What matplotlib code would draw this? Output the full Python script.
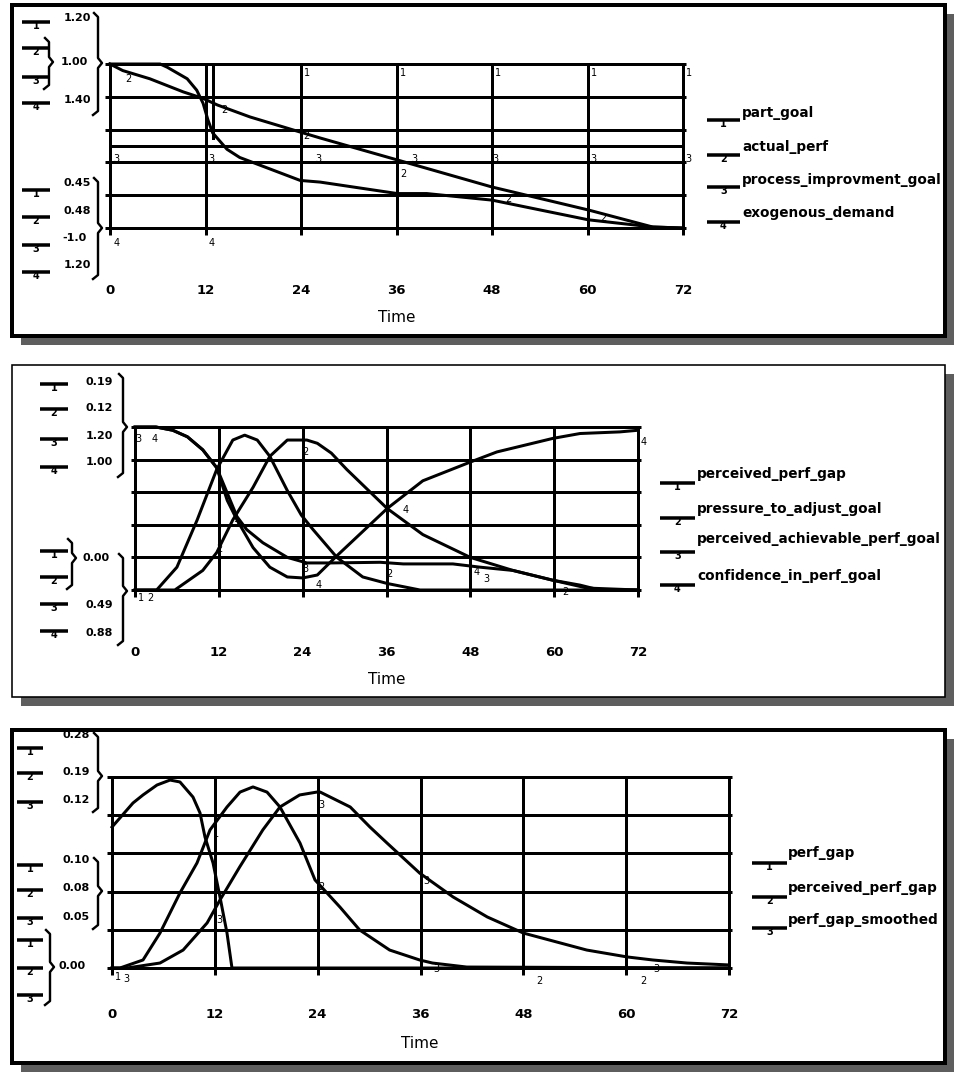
import matplotlib
matplotlib.use("Agg")
import matplotlib.pyplot as plt
from matplotlib.patches import Rectangle

# ---------------- data (values = fraction of each series' plotted scale) -------------
time_ticks = [0, 12, 24, 36, 48, 60, 72]
tick_labels = ["0", "12", "24", "36", "48", "60", "72"]

# Panel 1
p1_names = ["part_goal", "actual_perf", "process_improvment_goal", "exogenous_demand"]
p1_part_goal_t = [0, 6.3, 7.2, 9.7, 10.9, 11.7, 12.3, 12.9, 14.7, 16.3, 23.9, 26.4, 36.1, 39.8, 48.0, 60.1, 68.2, 72]
p1_part_goal_v = [1.0, 1.0, 0.98, 0.91, 0.84, 0.76, 0.66, 0.58, 0.48, 0.43, 0.29, 0.28, 0.21, 0.21, 0.17, 0.05, 0.006, 0.0]
p1_step_t = [13.0, 13.0]
p1_step_v = [1.0, 0.55]
p1_actual_t = [0, 1.6, 5.0, 9.2, 11.7, 13.5, 17.6, 23.9, 26.4, 36.1, 48.0, 60.1, 68.2, 72]
p1_actual_v = [1.0, 0.96, 0.91, 0.83, 0.79, 0.75, 0.677, 0.585, 0.549, 0.415, 0.25, 0.11, 0.006, 0.0]
p1_process_t = [0, 72]
p1_process_v = [0.5, 0.5]
p1_exo_t = [0, 72]
p1_exo_v = [0.0, 0.0]
p1_scale_upper = ["1.20", "1.00", "1.40"]
p1_scale_lower = ["0.45", "0.48", "-1.0", "1.20"]

# Panel 2
p2_names = ["perceived_perf_gap", "pressure_to_adjust_goal",
            "perceived_achievable_perf_goal", "confidence_in_perf_goal"]
p2_ppg_t = [0, 3.1, 6.0, 8.9, 11.7, 14.0, 15.7, 17.5, 19.3, 21.8, 23.8, 25.5, 28.9, 32.6, 36.1, 40.8, 72]
p2_ppg_v = [0.0, 0.0, 0.14, 0.43, 0.74, 0.92, 0.95, 0.92, 0.82, 0.61, 0.46, 0.37, 0.20, 0.08, 0.04, 0.0, 0.0]
p2_pressure_t = [0, 5.7, 9.7, 11.7, 14.0, 16.9, 19.3, 21.8, 24.6, 26.1, 28.1, 30.3, 36.1, 41.2, 48.0, 54.1, 59.8, 63.7, 66.5, 72]
p2_pressure_v = [0.0, 0.0, 0.12, 0.23, 0.43, 0.63, 0.82, 0.92, 0.92, 0.90, 0.84, 0.74, 0.50, 0.34, 0.20, 0.12, 0.06, 0.03, 0.0, 0.0]
p2_achievable_t = [0, 3.0, 5.4, 7.5, 9.7, 11.7, 13.2, 14.6, 16.0, 18.3, 21.8, 24.6, 28.0, 35.1, 38.4, 45.5, 49.4, 54.1, 59.8, 64.7, 72]
p2_achievable_v = [1.0, 1.0, 0.98, 0.94, 0.86, 0.75, 0.595, 0.45, 0.37, 0.29, 0.20, 0.166, 0.166, 0.17, 0.16, 0.16, 0.14, 0.12, 0.06, 0.012, 0.0]
p2_confidence_t = [0, 3.0, 5.4, 7.5, 9.7, 11.7, 13.2, 14.6, 16.9, 19.3, 21.8, 24.0, 26.1, 28.9, 36.1, 41.2, 48.0, 51.8, 59.8, 63.7, 69.4, 72]
p2_confidence_v = [1.0, 1.0, 0.98, 0.94, 0.86, 0.75, 0.55, 0.43, 0.26, 0.14, 0.08, 0.074, 0.092, 0.21, 0.50, 0.67, 0.785, 0.847, 0.93, 0.96, 0.97, 0.98]
p2_scale_upper = ["0.19", "0.12", "1.20", "1.00"]
p2_scale_lower = ["0.00", "0.49", "0.88"]

# Panel 3
p3_names = ["perf_gap", "perceived_perf_gap", "perf_gap_smoothed"]
p3_gap_t = [0, 2.45, 3.62, 5.25, 6.77, 7.93, 9.45, 10.27, 10.85, 11.79, 12.60, 13.42, 14.0, 72]
p3_gap_v = [0.738, 0.864, 0.906, 0.958, 0.984, 0.974, 0.895, 0.812, 0.686, 0.550, 0.372, 0.183, 0.0, 0.0]
p3_pgap_t = [0, 0.93, 3.62, 5.6, 7.93, 9.92, 11.44, 13.42, 14.94, 16.45, 18.09, 19.6, 21.94, 23.69, 26.6, 28.9, 32.4, 35.9, 37.4, 41.4, 72]
p3_pgap_v = [0.0, 0.0, 0.042, 0.183, 0.393, 0.55, 0.723, 0.843, 0.921, 0.948, 0.921, 0.843, 0.654, 0.461, 0.319, 0.199, 0.094, 0.042, 0.026, 0.005, 0.0]
p3_smooth_t = [0, 1.75, 5.6, 8.3, 11.1, 12.6, 14.9, 17.6, 19.6, 21.9, 23.9, 24.3, 27.8, 30.1, 32.1, 35.9, 39.8, 43.8, 48.0, 55.4, 60.1, 63.1, 67.1, 72]
p3_smooth_v = [0.0, 0.0, 0.026, 0.094, 0.236, 0.356, 0.529, 0.723, 0.843, 0.906, 0.921, 0.921, 0.843, 0.738, 0.654, 0.497, 0.372, 0.267, 0.183, 0.094, 0.058, 0.042, 0.026, 0.016]
p3_scale_upper = ["0.28", "0.19", "0.12"]
p3_scale_mid = ["0.10", "0.08", "0.05"]
p3_scale_lower = ["0.00"]

# curve number labels (t, value, digit)
p1_curve_labels = [(1.5, 0.95, "2"), (13.6, 0.76, "2"), (23.9, 0.60, "2"), (36.1, 0.37, "2"),
                   (49.3, 0.22, "2"), (61.2, 0.10, "2"),
                   (0, 0.46, "3"), (11.9, 0.46, "3"), (25.4, 0.46, "3"), (37.4, 0.46, "3"),
                   (47.7, 0.46, "3"), (59.9, 0.46, "3"), (71.9, 0.46, "3"),
                   (0, -0.05, "4"), (12, -0.05, "4"),
                   (24, 0.985, "1"), (36, 0.985, "1"), (48, 0.985, "1"), (60, 0.985, "1"), (72, 0.985, "1")]
p2_curve_labels = [(-0.4, 0.97, "3"), (1.9, 0.97, "4"), (0, -0.01, "1"), (1.4, -0.01, "2"),
                   (13.6, 0.45, "3"), (11.2, 0.29, "2"), (23.6, 0.89, "2"), (23.6, 0.17, "3"),
                   (25.5, 0.07, "4"), (37.9, 0.53, "4"), (35.5, 0.14, "2"), (48.0, 0.15, "4"),
                   (49.4, 0.11, "3"), (60.8, 0.03, "2"), (72, 0.95, "4")]
p3_curve_labels = [(0, -0.01, "1"), (0.9, -0.02, "3"), (11.4, 0.74, "1"), (11.8, 0.29, "3"),
                   (23.7, 0.89, "3"), (23.7, 0.46, "2"), (35.9, 0.49, "3"), (37.1, 0.03, "3"),
                   (49.1, -0.03, "2"), (61.3, -0.03, "2"), (62.8, 0.03, "3")]

# ---------------- figure ----------------
W, H = 956, 1078
fig = plt.figure(figsize=(W / 100, H / 100), dpi=100)
ov = fig.add_axes([0, 0, 1, 1])
ov.set_xlim(0, W)
ov.set_ylim(H, 0)
ov.axis("off")

PX = 72.0 / 100.0  # points per pixel
LW_GRID = 3.0 * PX
LW_CURVE = 3.0 * PX
FONT = "DejaVu Sans"


def frame(x0, y0, x1, y1, lw_px):
    sh = 9
    ov.add_patch(Rectangle((x1, y0 + sh), sh, (y1 - y0), facecolor="#5e5e5e", edgecolor="none", zorder=1))
    ov.add_patch(Rectangle((x0 + sh, y1), (x1 - x0), sh, facecolor="#5e5e5e", edgecolor="none", zorder=1))
    ov.add_patch(Rectangle((x0, y0), x1 - x0, y1 - y0, facecolor="white", edgecolor="black",
                           lw=lw_px * PX, zorder=2))


def right_brace(x, y0, yc, y1):
    xs = [x - 4, x, x, x + 4, x, x, x - 5]
    ys = [y0 - 2, y0 + 2, yc - 5, yc, yc + 5, y1 - 2, y1 + 2]
    ov.plot(xs, ys, color="black", lw=2.4 * PX, solid_joinstyle="round", zorder=5)


def marker(x0, x1, y, digit):
    ov.plot([x0, x1], [y, y], color="black", lw=3.5 * PX, solid_capstyle="butt", zorder=5)
    ov.text((x0 + x1) / 2, y - 1, digit, ha="center", va="top", fontsize=7, fontweight="bold",
            family=FONT, zorder=5)


def scale_text(x, y, s):
    ov.text(x, y, s, ha="center", va="center", fontsize=8, fontweight="bold", family=FONT, zorder=5)


def legend(x0, x1, xt, rows, names):
    for (yl, yt), (name, digit) in zip(rows, names):
        marker(x0, x1, yl, digit)
        ov.text(xt, yt, name, ha="left", va="center", fontsize=9.8, fontweight="bold",
                family=FONT, zorder=5)


def plot_axes(l, t, r, b):
    ax = fig.add_axes([l / W, 1 - b / H, (r - l) / W, (b - t) / H])
    ax.set_xlim(0, 72)
    ax.set_ylim(0, 1)
    ax.axis("off")
    ax.patch.set_alpha(0)
    ext = 7.0 / (b - t)
    for k in range(6):
        ax.plot([-0.6, 72.4], [k * 0.2, k * 0.2], color="black", lw=LW_GRID, solid_capstyle="butt",
                clip_on=False, zorder=3)
    for tt in time_ticks:
        ax.plot([tt, tt], [-ext, 1.0], color="black", lw=LW_GRID, solid_capstyle="butt",
                clip_on=False, zorder=3)
    return ax


def ticks_and_title(ax, t, b, y_tick, y_title, x_title):
    yt = (b - y_tick) / (b - t)
    for tt, lab in zip(time_ticks, tick_labels):
        ax.text(tt, yt, lab, transform=ax.get_xaxis_transform(), ha="center", va="center",
                fontsize=9.5, fontweight="bold", family=FONT)
    ov.text(x_title, y_title, "Time", ha="center", va="center", fontsize=11, family=FONT, zorder=5)


def curve(ax, t, v):
    ax.plot(t, v, color="black", lw=LW_CURVE, solid_joinstyle="round", clip_on=False, zorder=4)


def curve_labels(ax, labels):
    for t, v, d in labels:
        ax.text(t + 0.4, v - 0.01, d, ha="left", va="top", fontsize=7, family=FONT, zorder=5, clip_on=False)


# ================= Panel 1 =================
frame(12, 5, 945, 336, 4)
ax1 = plot_axes(110, 64, 683, 228)
curve(ax1, p1_part_goal_t, p1_part_goal_v)
curve(ax1, p1_step_t, p1_step_v)
curve(ax1, p1_actual_t, p1_actual_v)
curve(ax1, p1_process_t, p1_process_v)
curve(ax1, p1_exo_t, p1_exo_v)
curve_labels(ax1, p1_curve_labels)
ticks_and_title(ax1, 64, 228, 290, 318, 397)
for y, d in zip([22, 48, 77, 103], "1234"):
    marker(22, 50, y, d)
for y, d in zip([190, 217, 245, 272], "1234"):
    marker(22, 50, y, d)
for (x, y), s in zip([(77, 18), (74, 62), (77, 100)], p1_scale_upper):
    scale_text(x, y, s)
for (x, y), s in zip([(77, 183), (77, 211), (75, 238), (77, 265)], p1_scale_lower):
    scale_text(x, y, s)
right_brace(98, 15, 63, 113)
right_brace(49, 40, 62, 87)
right_brace(98, 180, 228, 277)
legend(707, 740, 742, [(120, 113), (155, 147), (187, 180), (222, 213)],
       list(zip(p1_names, "1234")))

# ================= Panel 2 =================
frame(12, 365, 945, 697, 1.6)
ax2 = plot_axes(135, 427, 638, 590)
curve(ax2, p2_ppg_t, p2_ppg_v)
curve(ax2, p2_pressure_t, p2_pressure_v)
curve(ax2, p2_achievable_t, p2_achievable_v)
curve(ax2, p2_confidence_t, p2_confidence_v)
curve_labels(ax2, p2_curve_labels)
ticks_and_title(ax2, 427, 590, 653, 680, 387)
for y, d in zip([384, 409, 439, 467], "1234"):
    marker(40, 68, y, d)
for y, d in zip([551, 577, 604, 631], "1234"):
    marker(40, 68, y, d)
for (x, y), s in zip([(99, 382), (99, 408), (99, 436), (99, 462)], p2_scale_upper):
    scale_text(x, y, s)
for (x, y), s in zip([(96, 558), (99, 605), (99, 633)], p2_scale_lower):
    scale_text(x, y, s)
right_brace(123, 376, 427, 475)
right_brace(72, 541, 558, 587)
right_brace(123, 556, 591, 643)
legend(660, 695, 697, [(483, 474), (518, 509), (552, 539), (585, 576)],
       list(zip(p2_names, "1234")))

# ================= Panel 3 =================
frame(12, 730, 945, 1063, 4)
ax3 = plot_axes(112, 777, 729, 968)
curve(ax3, p3_gap_t, p3_gap_v)
curve(ax3, p3_pgap_t, p3_pgap_v)
curve(ax3, p3_smooth_t, p3_smooth_v)
curve_labels(ax3, p3_curve_labels)
ticks_and_title(ax3, 777, 968, 1015, 1043, 420)
for y, d in zip([748, 773, 802], "123"):
    marker(17, 43, y, d)
for y, d in zip([865, 890, 918], "123"):
    marker(17, 43, y, d)
for y, d in zip([940, 968, 995], "123"):
    marker(17, 43, y, d)
for (x, y), s in zip([(76, 735), (76, 772), (76, 800)], p3_scale_upper):
    scale_text(x, y, s)
for (x, y), s in zip([(76, 860), (76, 888), (76, 917)], p3_scale_mid):
    scale_text(x, y, s)
scale_text(72, 966, p3_scale_lower[0])
right_brace(98, 735, 776, 810)
right_brace(98, 860, 891, 927)
right_brace(50, 932, 967, 1003)
legend(752, 787, 788, [(863, 853), (897, 888), (928, 920)],
       list(zip(p3_names, "123")))

fig.savefig("out.png", dpi=100)
